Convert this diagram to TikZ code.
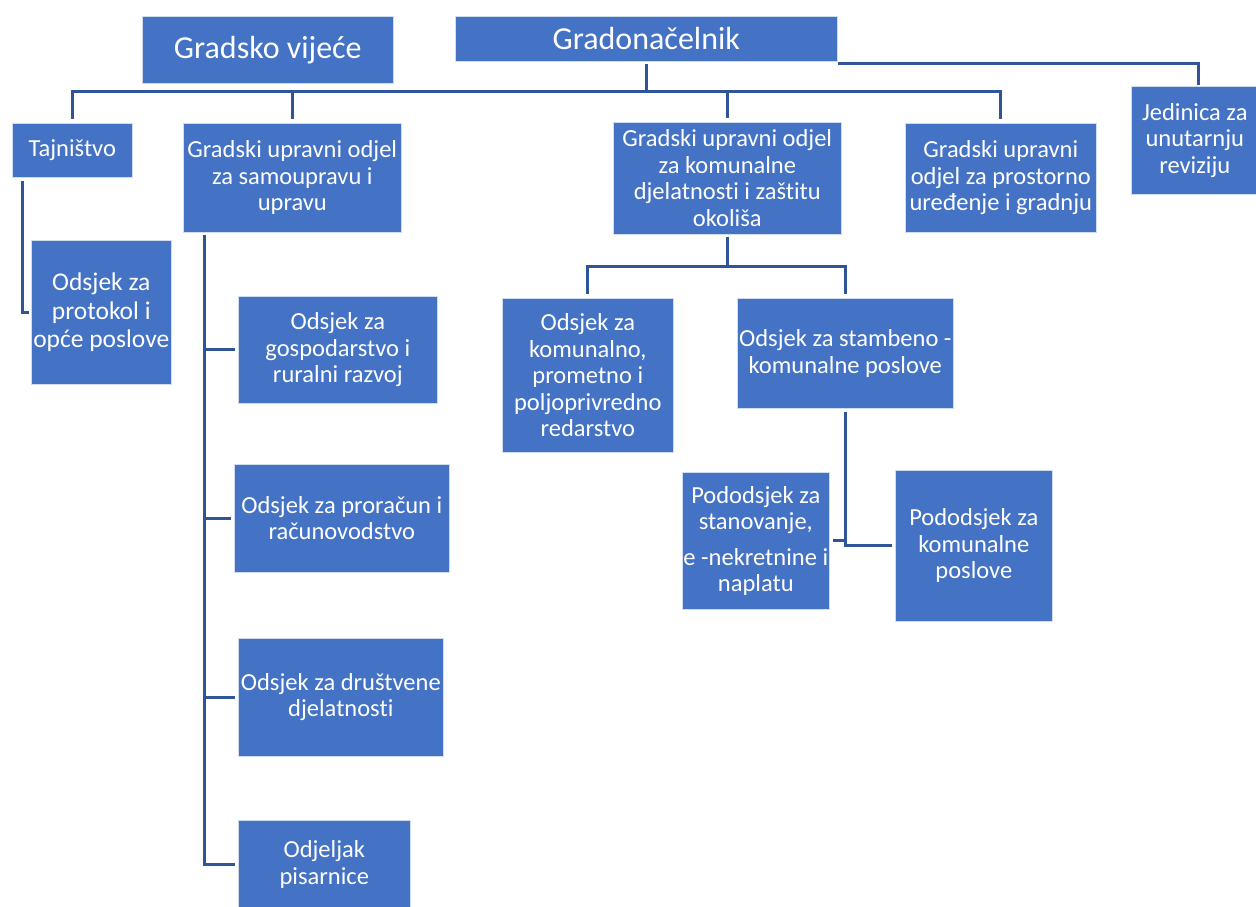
\documentclass[tikz,border=0pt]{standalone}
\usepackage{fontspec}
\setmainfont[RawFeature={-liga;-clig;-dlig;-calt}]{Carlito}
\definecolor{unitblue}{RGB}{68, 114, 196}
\definecolor{linkblue}{RGB}{47, 85, 151}
\tikzstyle{unit} = [
  fill=unitblue,
  draw=white!75!unitblue,
  line width=0.6pt,
  text=white,
  align=center,
  inner sep=0pt,
  anchor=north west,
  font=\fontsize{24.5}{26.5}\selectfont,
]
\tikzstyle{head} = [
  unit,
  font=\fontsize{32}{36}\selectfont,
]
\tikzstyle{link} = [
  draw=linkblue,
  line width=3pt,
]

\begin{document}
\begin{tikzpicture}[x=1pt, y=-1pt]
            \useasboundingbox (0,0) rectangle (1256,906);

            % Top
            \node[head, minimum width=251pt, minimum height=67pt] (vijece) at (142,16) {Gradsko vijeće};
            \node[head, minimum width=382pt, minimum height=45pt] (gradonacelnik) at (455,16) {Gradonačelnik};

            % Odjeli
            \node[unit, minimum width=120pt, minimum height=54pt] (tajnistvo) at (12,123) {Tajništvo};
            \node[unit, minimum width=218pt, minimum height=109pt] (samouprava) at (183,123)
              {Gradski upravni odjel\\za samoupravu i\\upravu};
            \node[unit, minimum width=228pt, minimum height=112pt] (komunalno) at (613,122)
              {Gradski upravni odjel\\za komunalne\\djelatnosti i zaštitu\\okoliša};
            \node[unit, minimum width=191pt, minimum height=109pt] (prostorno) at (905,123)
              {Gradski upravni\\odjel za prostorno\\uređenje i gradnju};
            \node[unit, minimum width=127pt, minimum height=108pt] (jedinica) at (1131,86)
              {Jedinica za\\unutarnju\\reviziju};

            % Odsjeci
            \node[unit, font=\fontsize{25.5}{28.5}\selectfont, minimum width=140pt, minimum height=144pt] (protokol) at (31,240)
              {Odsjek za\\protokol i\\opće poslove};
            \node[unit, minimum width=199pt, minimum height=107pt] (gospodarstvo) at (238,296)
              {Odsjek za\\gospodarstvo i\\ruralni razvoj};
            \node[unit, minimum width=215pt, minimum height=108pt] (proracun) at (234,464)
              {Odsjek za proračun i\\računovodstvo};
            \node[unit, minimum width=205pt, minimum height=118pt] (drustvene) at (238,638)
              {Odsjek za društvene\\djelatnosti};
            \node[unit, minimum width=172pt, minimum height=88pt] (pisarnica) at (238,820)
              {Odjeljak\\pisarnice};
            \node[unit, minimum width=171pt, minimum height=154pt] (redarstvo) at (502,298)
              {Odsjek za\\komunalno,\\prometno i\\poljoprivredno\\redarstvo};
            \node[unit, minimum width=216pt, minimum height=110pt] (stambeno) at (737,298)
              {Odsjek za stambeno -\\komunalne poslove};

            % Pododsjeci
            \node[unit, minimum width=147pt, minimum height=137pt] (stanovanje) at (682,472)
              {Pododsjek za\\stanovanje,\\[9pt]e -nekretnine i\\naplatu};
            \node[unit, minimum width=157pt, minimum height=151pt] (podkomunalne) at (895,470)
              {Pododsjek za\\komunalne\\poslove};

            % Connectors
            \coordinate (bus) at (0,91);
            \draw[link, shorten <=2pt] (gradonacelnik.south) -- (gradonacelnik.south |- bus);
            \foreach \n in {tajnistvo, samouprava, komunalno, prostorno}
              \draw[link, shorten >=4pt] (gradonacelnik.south |- bus) -| (\n.north);
            \draw[link, shorten >=1pt] ([yshift=-2pt]gradonacelnik.south east) -| ([xshift=4pt]jedinica.north);

            \draw[link, shorten <=3pt, shorten >=2pt] ([xshift=10pt]tajnistvo.south west) |- (protokol.west);

            \foreach \n in {gospodarstvo, proracun, drustvene, pisarnica}
              \draw[link, shorten <=2pt, shorten >=3pt] ([xshift=21pt]samouprava.south west) |- (\n.west);

            \coordinate (kombus) at (0,266);
            \draw[link, shorten <=2pt] (komunalno.south) -- (komunalno.south |- kombus);
            \foreach \n in {redarstvo, stambeno}
              \draw[link, shorten >=4pt] (komunalno.south |- kombus) -| (\n.north);

            \draw[link, shorten <=3pt, shorten >=3pt] (stambeno.south) |- (podkomunalne.west);
            \draw[link, shorten <=3pt, shorten >=3pt] (stambeno.south) |- (stanovanje.east);
          \end{tikzpicture}
\end{document}
